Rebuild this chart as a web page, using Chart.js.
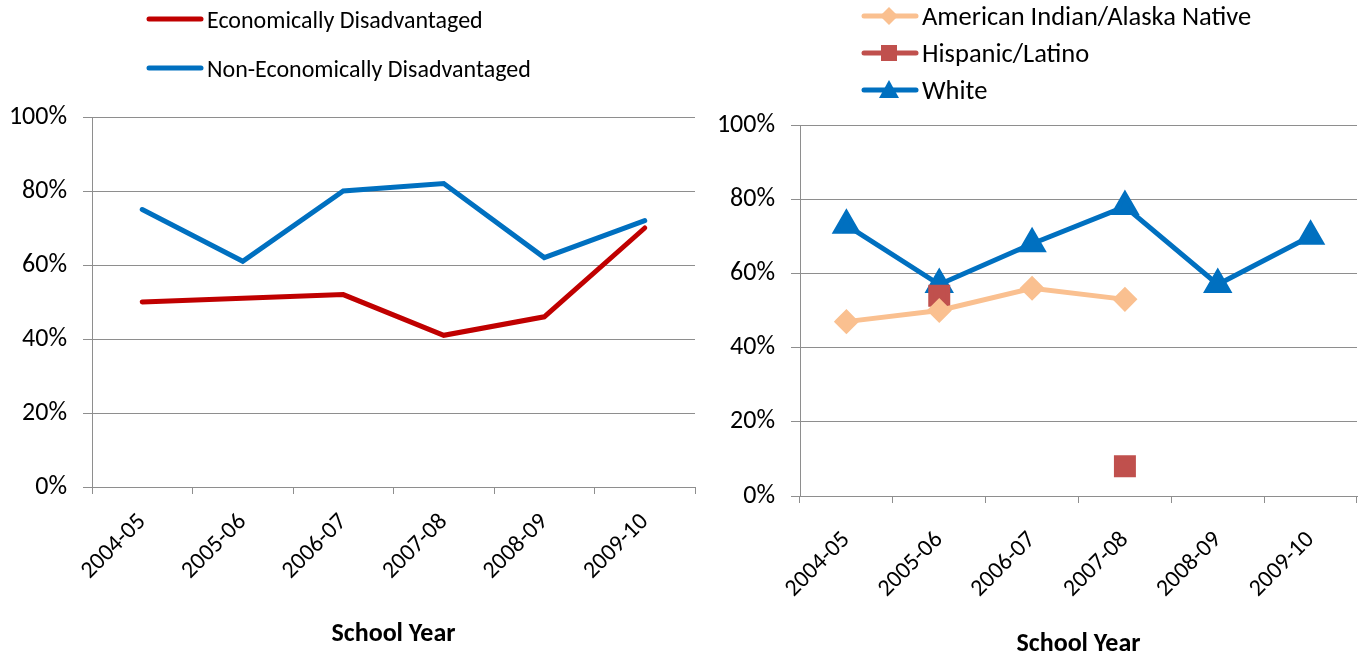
<!DOCTYPE html>
<html>
<head>
<meta charset="utf-8">
<script src="https://cdn.jsdelivr.net/npm/chart.js@4/dist/chart.umd.min.js"></script>
<style>
  body { margin: 0; background: #fff; width: 1364px; height: 657px; overflow: hidden; position: relative;
         font-family: Carlito, Calibri, Lato, sans-serif; }
  .box { position: absolute; top: 0; height: 657px; }
  #leftBox { left: 0; width: 700px; }
  #rightBox { left: 700px; width: 664px; }
  .item { position: absolute; display: flex; align-items: center; white-space: nowrap; font-size: 24px; color: #000; }
  .item.big { font-size: 26.5px; }
  .item svg { margin-right: 3px; }
</style>
</head>
<body>
<div class="box" id="leftBox"><canvas id="leftChart"></canvas></div>
<div class="box" id="rightBox"><canvas id="rightChart"></canvas></div>
<div id="legends"></div>
<script>
const years = ['2004-05', '2005-06', '2006-07', '2007-08', '2008-09', '2009-10'];
const yTicks = [0, 20, 40, 60, 80, 100];

// left chart: economic status
const econDisadv = [50, 51, 52, 41, 46, 70];
const nonEconDisadv = [75, 61, 80, 82, 62, 72];

// right chart: race / ethnicity
const amIndian = [47, 50, 56, 53, null, null];
const hispanic = [null, 54, null, 8, null, null];
const white = [73, 57, 68, 78, 57, 70];

const FONT = 'Carlito, Calibri, Lato, sans-serif';
const GRID = '#8e8e8e';

const makeOptions = (yWidth, xHeight, padTop, padRight, labelPad, titlePadBottom) => ({
  responsive: false,
  animation: false,
  layout: { autoPadding: false, padding: { top: padTop, right: padRight, left: 0, bottom: 0 } },
  plugins: { legend: { display: false }, tooltip: { enabled: false } },
  scales: {
    x: {
      offset: true,
      grid: { offset: true, drawOnChartArea: false, drawTicks: true, tickLength: 7, color: GRID, lineWidth: 1 },
      border: { color: GRID, width: 1 },
      ticks: { autoSkip: false, maxRotation: 45, minRotation: 45, color: '#000', padding: labelPad,
               font: { family: FONT, size: 24 } },
      title: { display: true, text: 'School Year', color: '#000',
               font: { family: FONT, size: 26, weight: 'bold', lineHeight: 1 },
               padding: { top: 0, bottom: titlePadBottom } },
      afterFit: s => { s.height = xHeight; s.paddingLeft = 0; s.paddingRight = 0; }
    },
    y: {
      min: 0, max: 100,
      afterBuildTicks: s => { s.ticks = yTicks.map(v => ({ value: v })); },
      grid: { color: GRID, lineWidth: 1, tickLength: 9 },
      border: { color: GRID, width: 1 },
      ticks: { color: '#000', padding: 16, callback: v => v + '%', font: { family: FONT, size: 26 } },
      afterFit: s => { s.width = yWidth; s.paddingTop = 0; s.paddingBottom = 0; }
    }
  }
});

const leftCanvas = document.getElementById('leftChart');
leftCanvas.width = 700; leftCanvas.height = 657;
new Chart(leftCanvas, {
  type: 'line',
  data: {
    labels: years,
    datasets: [
      { label: 'Economically Disadvantaged', data: econDisadv, borderColor: '#C00000',
        borderWidth: 5, pointRadius: 0, tension: 0, borderCapStyle: 'round' },
      { label: 'Non-Economically Disadvantaged', data: nonEconDisadv, borderColor: '#0070C0',
        borderWidth: 5, pointRadius: 0, tension: 0, borderCapStyle: 'round' }
    ]
  },
  options: makeOptions(92, 170, 117, 5, 14, 10)
});

const rightCanvas = document.getElementById('rightChart');
rightCanvas.width = 664; rightCanvas.height = 657;
new Chart(rightCanvas, {
  type: 'line',
  data: {
    labels: years,
    datasets: [
      { label: 'American Indian/Alaska Native', data: amIndian, borderColor: '#FAC090',
        backgroundColor: '#FAC090', borderWidth: 5, pointStyle: 'rectRot', pointRadius: 9, tension: 0 },
      { label: 'Hispanic/Latino', data: hispanic, borderColor: '#C0504D', backgroundColor: '#C0504D',
        borderWidth: 5, pointStyle: 'rect', pointRadius: 12, spanGaps: false, tension: 0 },
      { label: 'White', data: white, borderColor: '#0070C0', backgroundColor: '#0070C0',
        borderWidth: 5, pointStyle: 'triangle', pointRadius: 12, tension: 0 }
    ]
  },
  options: makeOptions(100, 161, 125, 7, 23, 0)
});

// legends drawn as html
const marker = (style, color) => {
  if (style === 'rectRot') return `<polygon points="28,1 37,10 28,19 19,10" fill="${color}"/>`;
  if (style === 'rect') return `<rect x="20" y="2" width="16" height="16" fill="${color}"/>`;
  if (style === 'triangle') return `<polygon points="28,0 38,18 18,18" fill="${color}"/>`;
  return '';
};
const legendItems = [
  { text: 'Economically Disadvantaged', color: '#C00000', style: null, x: 146, y: 19, big: false },
  { text: 'Non-Economically Disadvantaged', color: '#0070C0', style: null, x: 146, y: 68, big: false },
  { text: 'American Indian/Alaska Native', color: '#FAC090', style: 'rectRot', x: 861, y: 16, big: true },
  { text: 'Hispanic/Latino', color: '#C0504D', style: 'rect', x: 861, y: 53, big: true },
  { text: 'White', color: '#0070C0', style: 'triangle', x: 861, y: 90, big: true }
];
const legendHost = document.getElementById('legends');
legendItems.forEach(it => {
  const div = document.createElement('div');
  div.className = it.big ? 'item big' : 'item';
  div.style.left = it.x + 'px';
  div.style.top = (it.y - 16) + 'px';
  div.style.height = '32px';
  div.innerHTML = `<svg width="58" height="20" viewBox="0 0 58 20">
      <line x1="3" y1="10" x2="55" y2="10" stroke="${it.color}" stroke-width="5" stroke-linecap="round"/>
      ${marker(it.style, it.color)}</svg><span>${it.text}</span>`;
  legendHost.appendChild(div);
});
</script>
</body>
</html>
